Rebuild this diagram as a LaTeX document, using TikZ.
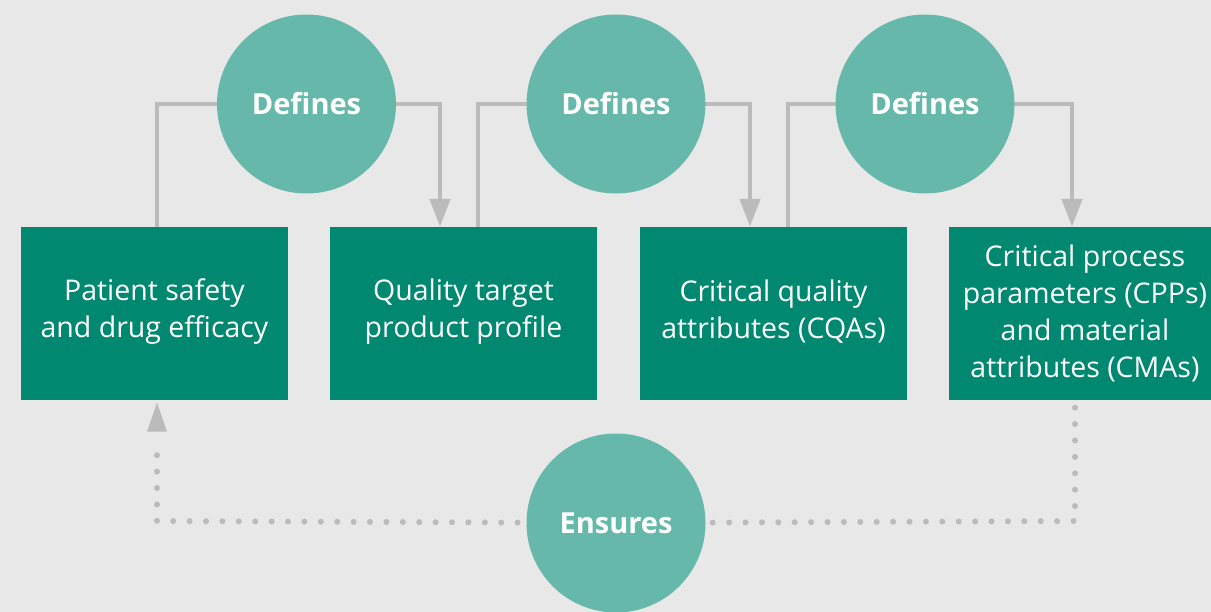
\documentclass[tikz,border=0pt]{standalone}
\usepackage{fontspec}
\setmainfont{Open Sans}
\usetikzlibrary{arrows.meta}
\definecolor{bg}{HTML}{E8E8E8}
\definecolor{boxg}{HTML}{008870}
\definecolor{circg}{HTML}{66B9AA}
\definecolor{lineg}{HTML}{BBBBBB}
\tikzset{
  stepbox/.style={fill=boxg, draw=none, minimum width=267pt, minimum height=173pt, inner sep=0pt},
  boxtext/.style={text=white, align=center, font=\fontsize{28.5}{37}\selectfont, inner sep=0pt},
  bubble/.style={circle, fill=circg, draw=none, minimum size=179pt, inner sep=0pt, text=white, font=\fontsize{29}{32}\selectfont\bfseries},
  conn/.style={draw=lineg, line width=4.5pt},
  tip/.style={-{Triangle[width=20pt,length=28pt]}},
  dots/.style={draw=lineg, line width=6pt, line cap=round, dash pattern=on 0pt off 16.4pt}
}
\begin{document}
\begin{tikzpicture}[x=1pt,y=-1pt]
\fill[bg] (0,0) rectangle (1211,612);
\useasboundingbox (0,0) rectangle (1211,612);
% nodes (placed first, drawn again on top of the connectors)
\path (154.5,313.5) node[stepbox] (b1) {}
      (463.5,313.5) node[stepbox] (b2) {}
      (773.5,313.5) node[stepbox] (b3) {}
      (1080,313.5) node[stepbox, minimum width=262pt] (b4) {};
\path (306.5,104) coordinate (c1c) (616,104) coordinate (c2c) (925,104) coordinate (c3c) (616,523) coordinate (c4c);
\coordinate (dturn) at (1075,521);
\coordinate (dleft) at (157,521);
% connectors
\draw[conn] ([xshift=2.5pt]b1.north) |- (c1c);
\draw[conn,tip] (c1c) -| ([xshift=-23.5pt]b2.north);
\draw[conn] ([xshift=14.5pt]b2.north) |- (c2c);
\draw[conn,tip] (c2c) -| ([xshift=-23.5pt]b3.north);
\draw[conn] ([xshift=14.5pt]b3.north) |- (c3c);
\draw[conn,tip] (c3c) -| ([xshift=-8pt]b4.north);
\draw[dots] ([xshift=-5pt,yshift=-7.5pt]b4.south) -- (dturn) -- (c4c);
\draw[dots] (c4c) -- (dleft) -- ([xshift=2.5pt,yshift=-48pt]b1.south);
\fill[lineg] ([xshift=2.5pt,yshift=-2.5pt]b1.south) -- ++(10,29) -- ++(-20,0) -- cycle;
% boxes and bubbles on top
\node[stepbox] at (b1) {};
\node[stepbox] at (b2) {};
\node[stepbox] at (b3) {};
\node[stepbox, minimum width=262pt] at (b4) {};
\node[boxtext] (t1) at ([yshift=2pt]b1.center) {Patient safety\\and drug efficacy};
\node[boxtext] (t2) at ([yshift=2pt]b2.center) {Quality target\\product profile};
\node[boxtext] (t3) at ([yshift=2pt]b3.center) {Critical quality\\attributes (CQAs)};
\node[boxtext] (t4) at ([xshift=5pt,yshift=0pt]b4.center) {Critical process\\parameters (CPPs)\\and material\\attributes (CMAs)};
\node[bubble] (c1) at (c1c) {Defines};
\node[bubble] (c2) at (c2c) {Defines};
\node[bubble] (c3) at (c3c) {Defines};
\node[bubble] (c4) at (c4c) {Ensures};
\end{tikzpicture}
\end{document}
